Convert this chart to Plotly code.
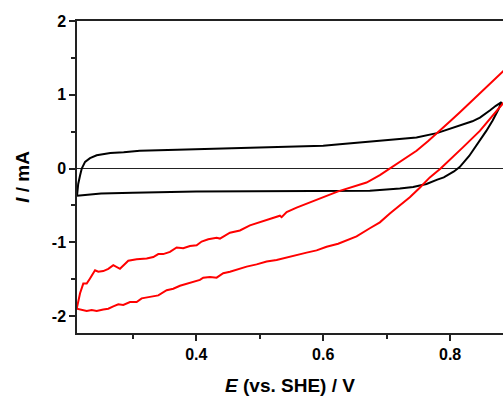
import plotly.graph_objects as go

# Red CV: upper branch (left -> right)
red_up_E = [0.2117, 0.2169, 0.2220, 0.2274, 0.2326, 0.2405, 0.2457, 0.2535, 0.2614, 0.2693,
            0.2798, 0.2877, 0.2929, 0.3061, 0.3219, 0.3323, 0.3402, 0.3480, 0.3586, 0.3691,
            0.3795, 0.3901, 0.4006, 0.4085, 0.4189, 0.4321, 0.4373, 0.4531, 0.4688, 0.4846,
            0.5003, 0.5161, 0.5318, 0.5345, 0.5424, 0.5581, 0.5739, 0.5896, 0.6054, 0.6236,
            0.6472, 0.6683, 0.6893, 0.7050, 0.7208, 0.7365, 0.7471, 0.7650, 0.7800, 0.8000,
            0.8150, 0.8310, 0.8460, 0.8600, 0.8710, 0.8810, 0.8850]
red_up_I = [-1.90, -1.69, -1.56, -1.56, -1.49, -1.38, -1.40, -1.39, -1.36, -1.31,
            -1.36, -1.29, -1.25, -1.23, -1.22, -1.20, -1.16, -1.16, -1.13, -1.07,
            -1.08, -1.05, -1.04, -0.99, -0.96, -0.94, -0.95, -0.87, -0.84, -0.77,
            -0.73, -0.68, -0.64, -0.66, -0.59, -0.53, -0.48, -0.43, -0.37, -0.31,
            -0.25, -0.19, -0.09, 0.00, 0.09, 0.18, 0.24, 0.37, 0.48, 0.64,
            0.76, 0.89, 1.01, 1.12, 1.21, 1.30, 1.33]

# Red CV: lower branch (left -> right)
red_lo_E = [0.2117, 0.2196, 0.2274, 0.2353, 0.2431, 0.2535, 0.2614, 0.2693, 0.2772, 0.2850,
            0.2956, 0.3061, 0.3140, 0.3271, 0.3402, 0.3534, 0.3638, 0.3743, 0.3849, 0.3953,
            0.4058, 0.4110, 0.4216, 0.4321, 0.4425, 0.4531, 0.4636, 0.4794, 0.4951, 0.5109,
            0.5266, 0.5424, 0.5581, 0.5739, 0.5896, 0.6054, 0.6236, 0.6369, 0.6526, 0.6735,
            0.6893, 0.7050, 0.7208, 0.7365, 0.7522, 0.7680, 0.7850, 0.8030, 0.8205, 0.8468,
            0.8677, 0.8810, 0.8850]
red_lo_I = [-1.90, -1.91, -1.93, -1.92, -1.93, -1.91, -1.90, -1.87, -1.84, -1.85,
            -1.81, -1.81, -1.76, -1.74, -1.72, -1.65, -1.63, -1.59, -1.56, -1.54,
            -1.51, -1.48, -1.47, -1.48, -1.42, -1.40, -1.37, -1.33, -1.30, -1.26,
            -1.24, -1.21, -1.18, -1.14, -1.11, -1.06, -1.02, -0.97, -0.92, -0.81,
            -0.73, -0.61, -0.50, -0.39, -0.26, -0.12, 0.00, 0.14, 0.29, 0.51,
            0.72, 0.86, 0.90]

# Black CV (upper branch forward, lower branch back)
black_E = [0.2121, 0.2140, 0.2169, 0.2196, 0.2248, 0.2326, 0.2431, 0.2646, 0.2856, 0.3110,
           0.3700, 0.4370, 0.5000, 0.5470, 0.6000, 0.6260, 0.6600, 0.7050, 0.7470, 0.7790,
           0.8000, 0.8200, 0.8350, 0.8470, 0.8560, 0.8630, 0.8720, 0.8810,
           0.8760, 0.8670, 0.8570, 0.8470, 0.8380, 0.8300, 0.8220, 0.8150, 0.8060, 0.8000,
           0.7900, 0.7798, 0.7628, 0.7417, 0.7208, 0.6735, 0.6000, 0.5000, 0.4000, 0.3000,
           0.2500, 0.2121]
black_I = [-0.37, -0.21, -0.095, 0.00, 0.09, 0.14, 0.18, 0.21, 0.22, 0.24,
           0.255, 0.27, 0.285, 0.29, 0.31, 0.33, 0.355, 0.39, 0.42, 0.48,
           0.54, 0.59, 0.64, 0.69, 0.74, 0.79, 0.85, 0.90,
           0.80, 0.65, 0.51, 0.38, 0.27, 0.17, 0.09, 0.02, -0.04, -0.07,
           -0.12, -0.15, -0.21, -0.25, -0.27, -0.30, -0.30, -0.30, -0.31, -0.33,
           -0.34, -0.37]

x_tickvals = [0.4, 0.6, 0.8]
x_ticktext = ["0.4", "0.6", "0.8"]
y_tickvals = [-2, -1, 0, 1, 2]
y_ticktext = ["-2", "-1", "0", "1", "2"]

font_family = "Liberation Sans, Arial, sans-serif"
axis_color = "#222222"

fig = go.Figure()
fig.add_trace(go.Scatter(x=black_E, y=black_I, mode="lines",
                         line=dict(color="black", width=2), showlegend=False))
fig.add_trace(go.Scatter(x=red_up_E, y=red_up_I, mode="lines",
                         line=dict(color="#ff0000", width=2), showlegend=False))
fig.add_trace(go.Scatter(x=red_lo_E, y=red_lo_I, mode="lines",
                         line=dict(color="#ff0000", width=2), showlegend=False))

fig.update_layout(
    width=503, height=396,
    margin=dict(l=77, r=0, t=21, b=63, autoexpand=False),
    paper_bgcolor="white", plot_bgcolor="white",
    font=dict(family=font_family, color="black"),
)

fig.update_xaxes(
    range=[0.2121, 0.8833],
    tickvals=x_tickvals, ticktext=x_ticktext,
    ticks="outside", ticklen=6, tickwidth=1.5, tickcolor=axis_color,
    minor=dict(dtick=0.1, tick0=0, ticks="outside", ticklen=4, tickwidth=1.5, tickcolor=axis_color),
    showline=True, linecolor=axis_color, linewidth=1.5, mirror=True,
    showgrid=False, zeroline=False,
    tickfont=dict(size=16, family=font_family, color="black", weight="bold"),
    title=dict(text="<i>E</i> (vs. SHE) / V", standoff=32,
               font=dict(size=19, family=font_family, color="black", weight="bold")),
)
fig.update_yaxes(
    range=[-2.23, 2.0],
    tickvals=y_tickvals, ticktext=y_ticktext,
    ticks="outside", ticklen=6, tickwidth=1.5, tickcolor=axis_color,
    minor=dict(dtick=0.5, tick0=0, ticks="outside", ticklen=4, tickwidth=1.5, tickcolor=axis_color),
    showline=True, linecolor=axis_color, linewidth=1.5, mirror=False,
    showgrid=False,
    zeroline=True, zerolinecolor="#222222", zerolinewidth=1,
    tickfont=dict(size=16, family=font_family, color="black", weight="bold"),
    title=dict(text="<i>I</i> / mA", standoff=17,
               font=dict(size=19, family=font_family, color="black", weight="bold")),
)

# remove the page's default body margin and scrollbars so the 503x396 figure fills the window
fig.write_html(
    "out.html",
    config={"displayModeBar": False},
    post_script="document.documentElement.style.overflow='hidden';"
                "document.body.style.margin='0';document.body.style.overflow='hidden';",
)
